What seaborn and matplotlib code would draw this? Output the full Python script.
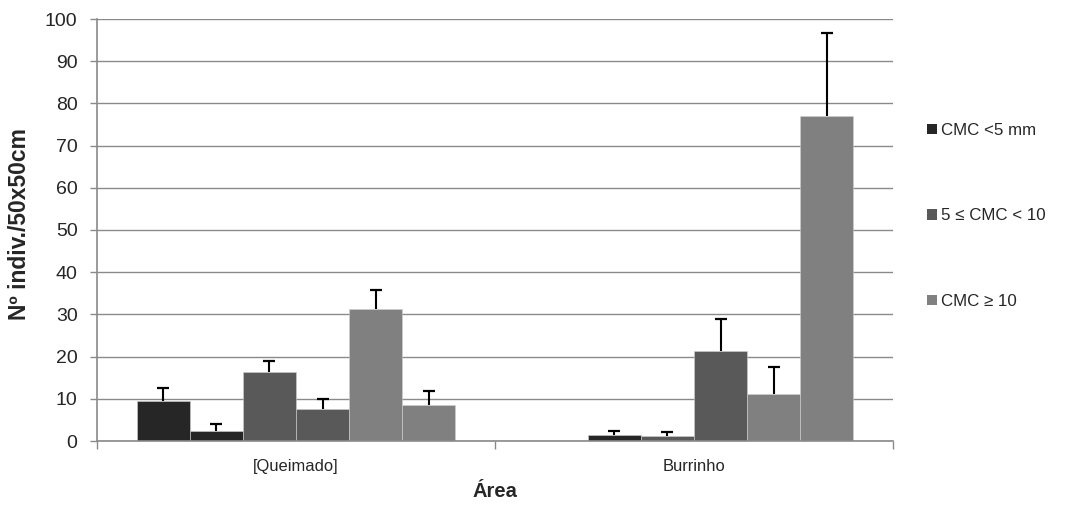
import numpy as np
import pandas as pd
import matplotlib
matplotlib.use("Agg")
import matplotlib.pyplot as plt
from matplotlib.patches import Patch
import seaborn as sns

# ---- data ----
areas = ["[Queimado]", "Burrinho"]
series = ["s1", "s2", "s3", "s4", "s5", "s6"]
series_colors = ["#262626", "#262626", "#595959", "#595959", "#808080", "#808080"]
queimado_vals = [9.5, 2.3, 16.3, 7.6, 31.3, 8.5]
queimado_errs = [3.0, 1.7, 2.7, 2.3, 4.5, 3.3]
burrinho_vals = [np.nan, 1.5, 1.3, 21.3, 11.1, 76.9]
burrinho_errs = [np.nan, 0.9, 0.8, 7.7, 6.4, 19.7]
legend_labels = ["CMC <5 mm", "5 \u2264 CMC < 10", "CMC \u2265 10"]
legend_colors = ["#262626", "#595959", "#808080"]
y_ticks = list(range(0, 101, 10))

rows = []
for area, vals, errs in [(areas[0], queimado_vals, queimado_errs),
                         (areas[1], burrinho_vals, burrinho_errs)]:
    for s, v, e in zip(series, vals, errs):
        rows.append({"area": area, "series": s, "value": v, "err": e})
df = pd.DataFrame(rows)

sns.set_style("white")
plt.rcParams["font.family"] = ["Liberation Sans", "DejaVu Sans"]

fig = plt.figure(figsize=(10.79, 5.15), dpi=100)
ax = fig.add_axes([97 / 1079, 1 - 441 / 515, (893 - 97) / 1079, (441 - 19) / 515])

palette = dict(zip(series, series_colors))
sns.barplot(data=df, x="area", y="value", hue="series", order=areas,
            hue_order=series, palette=palette, errorbar=None, ax=ax,
            width=0.8, edgecolor="#d0d0d0", linewidth=0.4, saturation=1,
            legend=False)

# error bars (upper only, Excel style), matched to each drawn bar
for cont, s in zip(ax.containers, series):
    for patch in cont.patches:
        h = patch.get_height()
        if not np.isfinite(h) or h == 0:
            continue
        xc = patch.get_x() + patch.get_width() / 2
        area = areas[int(round(xc))]
        e = df[(df.area == area) & (df.series == s)]["err"].iloc[0]
        ax.vlines(xc, h, h + e, color="black", linewidth=1.5, zorder=5)
        ax.plot([xc], [h + e], marker="_", markersize=9, markeredgewidth=1.6,
                color="black", zorder=5)

ax.set_ylim(0, 100)
ax.set_xlim(-0.5, 1.5)
ax.set_yticks(y_ticks)
ax.yaxis.grid(True, color="#8a8a8a", linewidth=1.0)
ax.set_axisbelow(True)
for sp in ["top", "right"]:
    ax.spines[sp].set_visible(False)
for sp in ["left", "bottom"]:
    ax.spines[sp].set_color("#8a8a8a")
    ax.spines[sp].set_linewidth(1.2)

ax.tick_params(axis="y", which="major", direction="out", length=5,
               color="#8a8a8a", width=1, labelsize=14, pad=9, left=True)
ax.set_xticks([0, 1])
ax.set_xticklabels(areas)
ax.tick_params(axis="x", which="major", length=0, labelsize=11.9, pad=13)
ax.set_xticks([-0.5, 0.5, 1.5], minor=True)
ax.tick_params(axis="x", which="minor", direction="out", length=6,
               color="#8a8a8a", width=1, bottom=True)

ax.set_ylabel("N\u00ba indiv./50x50cm", fontsize=16.5, fontweight="bold")
ax.yaxis.set_label_coords(-0.083, 0.514)
ax.set_xlabel("\u00c1rea", fontsize=14.5, fontweight="bold", labelpad=6)

handles = [Patch(facecolor=c, edgecolor="none", label=l)
           for c, l in zip(legend_colors, legend_labels)]
fig.legend(handles=handles, loc="center left",
           bbox_to_anchor=(912 / 1079, 1 - 216 / 515), frameon=False,
           fontsize=12.2, handlelength=0.55, handleheight=0.55,
           handletextpad=0.25, labelspacing=4.15)

fig.savefig("out.png", dpi=100)
